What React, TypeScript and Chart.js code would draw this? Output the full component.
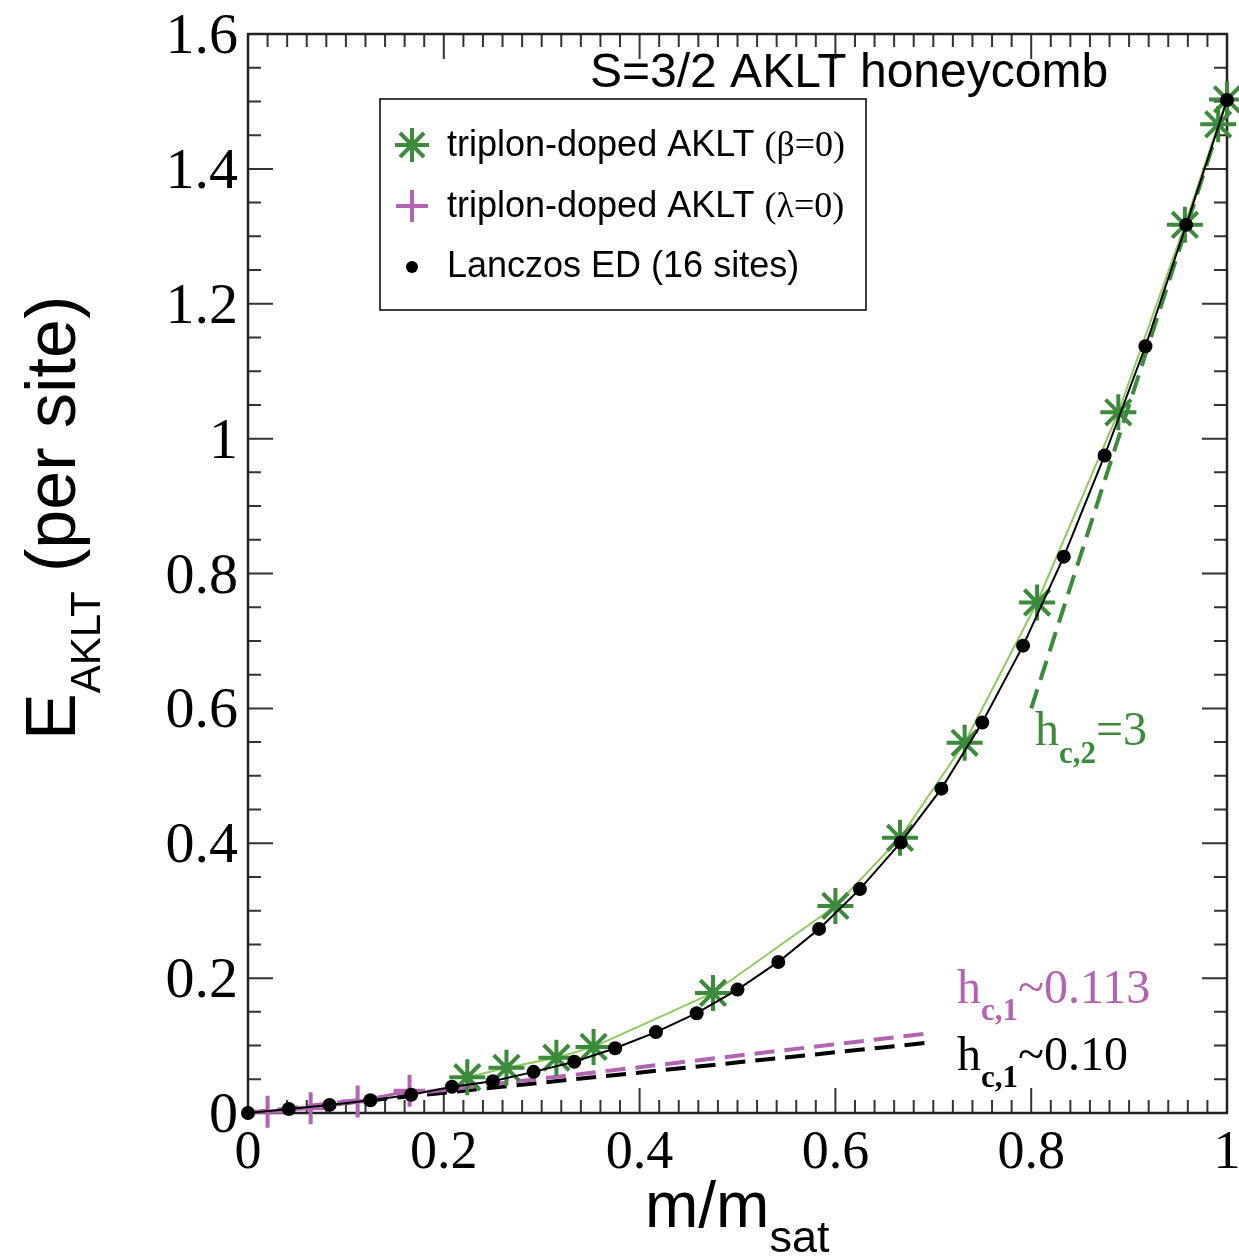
import React, { useEffect, useRef } from "react";
import { Chart, registerables } from "chart.js";

Chart.register(...registerables);

// ---- data ----
const edX = [0, 0.0417, 0.0833, 0.125, 0.1667, 0.2083, 0.25, 0.2917, 0.3333, 0.375, 0.4167, 0.4583, 0.5,
  0.5417, 0.5833, 0.625, 0.6667, 0.7083, 0.75, 0.7917, 0.8333, 0.875, 0.9167, 0.9583, 1];
const edY = [0, 0.006, 0.012, 0.019, 0.027, 0.039, 0.047, 0.061, 0.076, 0.096, 0.12, 0.148, 0.183,
  0.224, 0.273, 0.332, 0.401, 0.481, 0.579, 0.693, 0.825, 0.975, 1.137, 1.317, 1.502];

const betaX = [0.224, 0.264, 0.315, 0.353, 0.475, 0.6, 0.666, 0.732, 0.806, 0.889, 0.957, 0.991, 1.0];
const betaY = [0.053, 0.067, 0.082, 0.098, 0.178, 0.307, 0.408, 0.549, 0.757, 1.039, 1.317, 1.466, 1.503];

const lambdaX = [0.02, 0.064, 0.112, 0.165];
const lambdaY = [0.002, 0.007, 0.017, 0.033];

const hc1PurpleX = [0, 0.7];
const hc1PurpleY = [0, 0.119];
const hc1BlackX = [0, 0.7];
const hc1BlackY = [0, 0.105];
const hc2X = [0.8, 1.0];
const hc2Y = [0.6, 1.5];

const xTickValues = [0, 0.2, 0.4, 0.6, 0.8, 1];
const yTickValues = [0, 0.2, 0.4, 0.6, 0.8, 1, 1.2, 1.4, 1.6];

const legendEntries = [
  { label: "triplon-doped AKLT ", greek: "(\u03B2=0)" },
  { label: "triplon-doped AKLT ", greek: "(\u03BB=0)" },
  { label: "Lanczos ED (16 sites)", greek: "" },
];
const titleText = "S=3/2 AKLT honeycomb";

const GREEN = "#3b8b3b";
const LIGHT_GREEN = "#8fca5f";
const PURPLE = "#b263b2";

const pts = (xs: number[], ys: number[]) => xs.map((x, i) => ({ x, y: ys[i] }));
const fmt = (v: number) => String(Math.round(v * 10) / 10);

const SERIF = "'Liberation Serif', 'Times New Roman', serif";
const SANS = "'Liberation Sans', Arial, sans-serif";

function drawParts(ctx: CanvasRenderingContext2D, parts: { t: string; f: string; dy: number }[], x: number, y: number) {
  let cx = x;
  for (const p of parts) {
    ctx.font = p.f;
    ctx.fillText(p.t, cx, y + p.dy);
    cx += ctx.measureText(p.t).width;
  }
}

const frameTicks = {
  id: "frameTicks",
  beforeDatasetsDraw(chart: any) {
    const { ctx, chartArea: a, scales } = chart;
    const xs = scales.x;
    const ys = scales.y;
    ctx.save();
    ctx.strokeStyle = "#333";
    ctx.lineWidth = 2;
    ctx.beginPath();
    for (let i = 0; i <= 50; i++) {
      const px = xs.getPixelForValue(i / 50);
      const len = i % 10 === 0 ? 25 : 13;
      ctx.moveTo(px, a.bottom);
      ctx.lineTo(px, a.bottom - len);
      ctx.moveTo(px, a.top);
      ctx.lineTo(px, a.top + len);
    }
    for (let j = 0; j <= 32; j++) {
      const py = ys.getPixelForValue(j / 20);
      const len = j % 4 === 0 ? 25 : 13;
      ctx.moveTo(a.left, py);
      ctx.lineTo(a.left + len, py);
      ctx.moveTo(a.right, py);
      ctx.lineTo(a.right - len, py);
    }
    ctx.stroke();
    ctx.strokeStyle = "#222";
    ctx.lineWidth = 2.5;
    ctx.strokeRect(a.left, a.top, a.right - a.left, a.bottom - a.top);

    // tick labels
    ctx.fillStyle = "#000";
    ctx.textBaseline = "alphabetic";
    ctx.font = `54px ${SERIF}`;
    ctx.textAlign = "center";
    for (const v of xTickValues) {
      ctx.fillText(fmt(v), xs.getPixelForValue(v), a.bottom + 55);
    }
    ctx.font = `58px ${SERIF}`;
    ctx.textAlign = "right";
    for (const v of yTickValues) {
      ctx.fillText(fmt(v), a.left - 10, ys.getPixelForValue(v) + 19);
    }
    ctx.restore();
  },
  afterDraw(chart: any) {
    const { ctx } = chart;
    ctx.save();
    ctx.textBaseline = "alphabetic";
    ctx.textAlign = "left";
    ctx.fillStyle = "#000";

    // title
    ctx.font = `48px ${SANS}`;
    ctx.fillText(titleText, 590, 87);

    // legend box
    ctx.strokeStyle = "#000";
    ctx.lineWidth = 1.5;
    ctx.strokeRect(380, 99, 486, 211);
    // star marker
    const sx = 412;
    ctx.strokeStyle = GREEN;
    ctx.lineWidth = 4;
    ctx.beginPath();
    const r = 17;
    for (let k = 0; k < 4; k++) {
      const ang = (k * Math.PI) / 4;
      ctx.moveTo(sx + r * Math.cos(ang), 145 + r * Math.sin(ang));
      ctx.lineTo(sx - r * Math.cos(ang), 145 - r * Math.sin(ang));
    }
    ctx.stroke();
    // plus marker
    ctx.strokeStyle = PURPLE;
    ctx.beginPath();
    ctx.moveTo(sx - 16, 206);
    ctx.lineTo(sx + 16, 206);
    ctx.moveTo(sx, 190);
    ctx.lineTo(sx, 222);
    ctx.stroke();
    // dot marker
    ctx.fillStyle = "#000";
    ctx.beginPath();
    ctx.arc(sx, 267, 6, 0, Math.PI * 2);
    ctx.fill();
    const baselines = [156, 217, 277];
    legendEntries.forEach((e, i) => {
      drawParts(ctx, [
        { t: e.label, f: `36px ${SANS}`, dy: 0 },
        { t: e.greek, f: `36px ${SERIF}`, dy: 0 },
      ], 447, baselines[i]);
    });

    // annotations
    const serifBig = `48px ${SERIF}`;
    const serifSub = `bold 31px ${SERIF}`;
    ctx.fillStyle = GREEN;
    drawParts(ctx, [
      { t: "h", f: serifBig, dy: 0 },
      { t: "c,2", f: serifSub, dy: 18 },
      { t: "=3", f: serifBig, dy: 0 },
    ], 1035, 745);
    ctx.fillStyle = PURPLE;
    drawParts(ctx, [
      { t: "h", f: serifBig, dy: 0 },
      { t: "c,1", f: serifSub, dy: 17 },
      { t: "~0.113", f: serifBig, dy: 0 },
    ], 957, 1003);
    ctx.fillStyle = "#000";
    drawParts(ctx, [
      { t: "h", f: serifBig, dy: 0 },
      { t: "c,1", f: serifSub, dy: 17 },
      { t: "~0.10", f: serifBig, dy: 0 },
    ], 957, 1070);

    // x axis title
    drawParts(ctx, [
      { t: "m/m", f: `64px ${SANS}`, dy: 0 },
      { t: "sat", f: `45px ${SANS}`, dy: 25 },
    ], 645, 1227);

    // y axis title
    ctx.translate(75, 740);
    ctx.rotate(-Math.PI / 2);
    drawParts(ctx, [
      { t: "E", f: `70px ${SANS}`, dy: 0 },
      { t: "AKLT", f: `42px ${SANS}`, dy: 25 },
      { t: " (per site)", f: `70px ${SANS}`, dy: 0 },
    ], 0, 0);
    ctx.restore();
  },
};

export default function App() {
  const ref = useRef<HTMLCanvasElement | null>(null);
  useEffect(() => {
    if (!ref.current) return;
    const chart = new Chart(ref.current, {
      type: "scatter",
      data: {
        datasets: [
          {
            label: "Lanczos ED (16 sites)",
            data: pts(edX, edY),
            showLine: true,
            borderColor: "#000",
            borderWidth: 2,
            pointStyle: "circle",
            pointRadius: 7,
            pointBackgroundColor: "#000",
            pointBorderWidth: 0,
            clip: false,
            order: 0,
          },
          {
            label: "triplon-doped AKLT (beta=0)",
            data: pts(betaX, betaY),
            showLine: true,
            borderColor: LIGHT_GREEN,
            borderWidth: 2,
            pointStyle: "star",
            pointRadius: 18,
            pointBorderColor: GREEN,
            pointBackgroundColor: GREEN,
            pointBorderWidth: 4,
            clip: false,
            order: 1,
          },
          {
            label: "triplon-doped AKLT (lambda=0)",
            data: pts(lambdaX, lambdaY),
            showLine: true,
            borderColor: PURPLE,
            borderWidth: 3,
            pointStyle: "cross",
            pointRadius: 16,
            pointBorderColor: PURPLE,
            pointBorderWidth: 4,
            clip: false,
            order: 2,
          },
          {
            label: "hc1 purple",
            data: pts(hc1PurpleX, hc1PurpleY),
            showLine: true,
            borderColor: PURPLE,
            borderWidth: 4,
            borderDash: [20, 10],
            pointRadius: 0,
            order: 3,
          },
          {
            label: "hc1 black",
            data: pts(hc1BlackX, hc1BlackY),
            showLine: true,
            borderColor: "#000",
            borderWidth: 4,
            borderDash: [20, 10],
            pointRadius: 0,
            order: 4,
          },
          {
            label: "hc2 green",
            data: pts(hc2X, hc2Y),
            showLine: true,
            borderColor: GREEN,
            borderWidth: 4,
            borderDash: [20, 10],
            pointRadius: 0,
            order: 5,
          },
        ],
      },
      options: {
        animation: false,
        responsive: false,
        devicePixelRatio: 1,
        events: [],
        layout: { autoPadding: false, padding: { top: 34, right: 12, left: 248, bottom: 143 } },
        elements: { line: { tension: 0 } },
        plugins: { legend: { display: false }, tooltip: { enabled: false } },
        scales: {
          x: { type: "linear", min: 0, max: 1, display: false },
          y: { type: "linear", min: 0, max: 1.6, display: false },
        },
      },
      plugins: [frameTicks],
    } as any);
    return () => chart.destroy();
  }, []);
  return (
    <div style={{ position: "absolute", left: 0, top: 0, width: 1239, height: 1256, background: "#fff" }}>
      <canvas ref={ref} width={1239} height={1256} style={{ display: "block", width: 1239, height: 1256 }} />
    </div>
  );
}
